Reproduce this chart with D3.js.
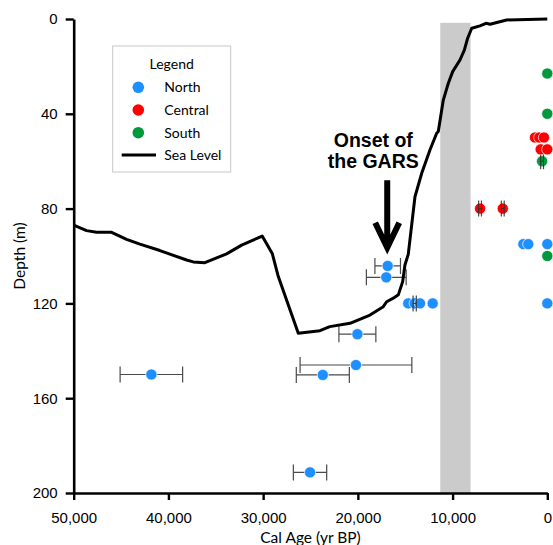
<!DOCTYPE html>
<html>
<head>
<meta charset="utf-8">
<script src="https://cdn.jsdelivr.net/npm/d3@7"></script>
<style>
  html, body { margin: 0; padding: 0; background: #fff; }
  .tick text { font-family: "Liberation Sans", Arial, sans-serif; font-size: 15px; fill: #000; }
  .title { font-family: Lato, "Open Sans", sans-serif; font-size: 15.5px; fill: #000; }
  .legend text { font-family: Lato, "Open Sans", sans-serif; font-size: 14px; fill: #000; }
</style>
</head>
<body>
<div class="chart"></div>
<script>
// sea level curve (cal yr BP, depth m)
const seaAge = [50000, 48640, 47580, 46000, 44420, 43010, 40900, 38080, 37380, 36150, 33860, 32270, 30100, 29040, 28400,
  26290, 24000, 22960, 20830, 18720, 17320, 16960, 16260, 15730, 15270, 15030, 14680, 13970, 13260, 12390, 11680, 11510,
  11260, 10980, 10450, 9990, 9220, 8760, 8410, 7980, 7110, 6470, 6050, 4290, 0]
const seaDepth = [87.0, 89.3, 90.0, 90.0, 93.0, 95.0, 97.7, 101.7, 102.5, 102.8, 99.1, 95.4, 91.6, 98.9, 108.7,
  132.6, 131.5, 129.8, 128.4, 124.9, 121.4, 119.3, 117.8, 116.4, 110.8, 103.8, 99.3, 75.0, 65.1, 55.3, 48.2, 47.5,
  41.2, 34.2, 27.1, 22.2, 17.3, 13.1, 8.1, 3.9, 2.9, 1.8, 2.2, 0.4, 0]

// samples: age, depth, age error
const northAge = [41800, 25050, 23700, 20200, 20050, 17000, 16850, 14680, 14000, 13440, 12100, 0, 2530, 2010, 0]
const northDepth = [150, 191.3, 150.2, 146, 133, 109, 104.2, 120, 120, 120, 120, 120, 95, 95, 95]
const northErr = [3300, 1760, 2800, 5900, 1950, 2100, 1350, 0, 170, 0, 0, 0, 0, 0, 0]

const centralAge = [7100, 4700, 1300, 850, 350, 700, 0]
const centralDepth = [80, 80, 50, 50, 50, 55, 55]
const centralErr = [150, 150, 0, 0, 0, 0, 0]

const southAge = [0, 0, 550, 0]
const southDepth = [23, 40, 60, 100]
const southErr = [0, 0, 150, 0]

const gapBand = [11300, 8100] // shaded interval
const xTicks = [50000, 40000, 30000, 20000, 10000, 0]
const yTicks = [0, 40, 80, 120, 160, 200]

const width = 553
const height = 545
const margin = { top: 19, right: 5.7, bottom: 52, left: 73.7 }

const colors = { North: "#1e8fff", Central: "#ff0000", South: "#00993c" }

const series = [
  { key: "North", ages: northAge, depths: northDepth, errs: northErr },
  { key: "Central", ages: centralAge, depths: centralDepth, errs: centralErr },
  { key: "South", ages: southAge, depths: southDepth, errs: southErr }
]
const points = series.flatMap(s =>
  s.ages.map((a, i) => ({ key: s.key, age: a, depth: s.depths[i], err: s.errs[i] }))
)
const sea = seaAge.map((a, i) => ({ age: a, depth: seaDepth[i] }))

const $svg = d3.select(".chart").append("svg")
  .attr("width", width)
  .attr("height", height)

const x = d3.scaleLinear().domain([50000, 0]).range([margin.left, width - margin.right])
const y = d3.scaleLinear().domain([0, 200]).range([margin.top, height - margin.bottom])

// shaded band
$svg.append("rect")
  .attr("x", x(gapBand[0]))
  .attr("width", x(gapBand[1]) - x(gapBand[0]))
  .attr("y", y(1.6))
  .attr("height", y(200) - y(1.6))
  .attr("fill", "#cbcbcb")

// error bars
const cap = 8
const $err = $svg.append("g").attr("stroke", "#4a4a4a").attr("stroke-width", 1.2).attr("fill", "none")
points.filter(d => d.err > 0).forEach(d => {
  const x0 = x(d.age + d.err)
  const x1 = x(d.age - d.err)
  const yy = y(d.depth)
  $err.append("path")
    .attr("d", `M${x0},${yy}H${x1}M${x0},${yy - cap}V${yy + cap}M${x1},${yy - cap}V${yy + cap}`)
})

// sea level curve
const line = d3.line().x(d => x(d.age)).y(d => y(d.depth))
$svg.append("path")
  .datum(sea)
  .attr("d", line)
  .attr("fill", "none")
  .attr("stroke", "#000")
  .attr("stroke-width", 3)
  .attr("stroke-linejoin", "round")

// markers
$svg.append("g")
  .selectAll("circle")
  .data(points)
  .join("circle")
  .attr("cx", d => x(d.age))
  .attr("cy", d => y(d.depth))
  .attr("r", 5.6)
  .attr("fill", d => colors[d.key])
  .attr("stroke", "#fff")
  .attr("stroke-width", 0.7)

// error caps for small bars sit on top of the markers
points.filter(d => d.err > 0 && d.err < 500).forEach(d => {
  const x0 = x(d.age + d.err)
  const x1 = x(d.age - d.err)
  const yy = y(d.depth)
  $svg.append("path")
    .attr("d", `M${x0},${yy}H${x1}M${x0},${yy - 6}V${yy + 6}M${x1},${yy - 6}V${yy + 6}`)
    .attr("stroke", "#333")
    .attr("stroke-width", 1)
    .attr("fill", "none")
})

// axes
const yAxis = d3.axisLeft(y).tickValues(yTicks).tickSize(8).tickPadding(8).tickSizeOuter(0)
const xAxis = d3.axisBottom(x).tickValues(xTicks).tickFormat(d3.format(",")).tickSize(7).tickPadding(12.5).tickSizeOuter(0)

const $yAxis = $svg.append("g")
  .attr("transform", `translate(${margin.left},0)`)
  .call(yAxis)
const $xAxis = $svg.append("g")
  .attr("transform", `translate(0,${height - margin.bottom})`)
  .call(xAxis)
;[$yAxis, $xAxis].forEach($a => {
  $a.select(".domain").attr("stroke", "#000").attr("stroke-width", 2.6)
  $a.selectAll(".tick line").attr("stroke", "#000").attr("stroke-width", 2.4)
})

$svg.append("text")
  .attr("class", "title")
  .attr("x", (x(50000) + x(0)) / 2)
  .attr("y", 543)
  .attr("text-anchor", "middle")
  .text("Cal Age (yr BP)")

$svg.append("text")
  .attr("class", "title")
  .attr("transform", `translate(24.5, ${(y(0) + y(200)) / 2}) rotate(-90)`)
  .attr("text-anchor", "middle")
  .text("Depth (m)")

// annotation
const $note = $svg.append("g")
$note.append("text")
  .attr("x", x(18370))
  .attr("text-anchor", "middle")
  .attr("font-family", "Liberation Sans, Arial, sans-serif")
  .attr("font-weight", "bold")
  .attr("font-size", 19.5)
  .selectAll("tspan")
  .data([["Onset of", 53.9], ["the GARS", 63]])
  .join("tspan")
  .attr("x", x(18370))
  .attr("y", d => y(d[1]))
  .text(d => d[0])

const ax = x(16900)
$note.append("path")
  .attr("d", `M${ax},${y(68)}V${y(96)}M${ax - 12},${y(86)}L${ax},${y(96.5)}L${ax + 12},${y(86)}`)
  .attr("fill", "none")
  .attr("stroke", "#000")
  .attr("stroke-width", 6)
  .attr("stroke-linejoin", "miter")

// legend
const $legend = $svg.append("g").attr("class", "legend").attr("transform", "translate(112.7,46)")
$legend.append("rect")
  .attr("width", 118)
  .attr("height", 126)
  .attr("fill", "#fff")
  .attr("stroke", "#c8c8c8")
  .attr("stroke-width", 1)
$legend.append("text")
  .attr("x", 59)
  .attr("y", 23)
  .attr("text-anchor", "middle")
  .text("Legend")
const items = series.map(s => s.key)
items.forEach((k, i) => {
  const yy = 41.3 + i * 22.7
  $legend.append("circle")
    .attr("cx", 25.6)
    .attr("cy", yy)
    .attr("r", 5.8)
    .attr("fill", colors[k])
  $legend.append("text")
    .attr("x", 51.6)
    .attr("y", yy + 5)
    .text(k)
})
$legend.append("line")
  .attr("x1", 9)
  .attr("x2", 43.3)
  .attr("y1", 109)
  .attr("y2", 109)
  .attr("stroke", "#000")
  .attr("stroke-width", 3)
$legend.append("text")
  .attr("x", 51.6)
  .attr("y", 114)
  .text("Sea Level")
</script>
</body>
</html>
